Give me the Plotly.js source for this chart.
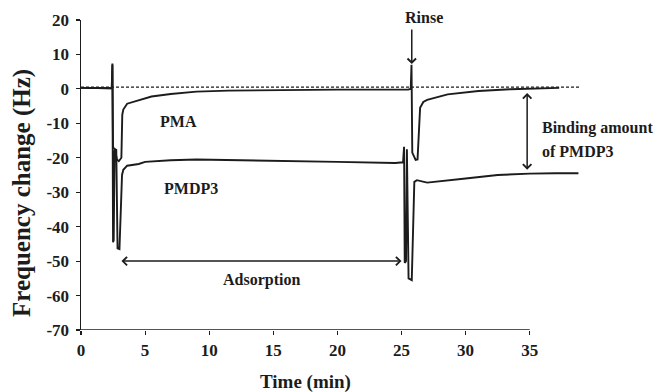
<!DOCTYPE html>
<html>
<head>
<meta charset="utf-8">
<script src="https://cdn.plot.ly/plotly-3.0.1.min.js"></script>
<style>html,body{margin:0;padding:0;background:#fff;}#chart{width:654px;height:392px;}</style>
</head>
<body>
<div id="chart"></div>
<script>
// Time (min) and frequency change (Hz)
const pmaTime = [0, 1.0, 2.0, 2.40, 2.45, 2.50, 2.65, 2.80, 2.95, 3.15, 3.22, 3.30, 3.60, 4.50, 5.50, 7.00, 9.00, 11.5, 15.0, 20.0, 25.5, 25.72, 25.78, 25.84, 26.10, 26.25, 26.45, 26.70, 27.0, 28.0, 28.6, 31.0, 33.5, 37.3];
const pmaFreq = [0.3, 0.3, 0.1, 0.2, 7.4, -17.0, -17.5, -20.5, -21.0, -20.0, -7.5, -6.0, -4.3, -3.2, -2.2, -1.5, -0.8, -0.5, -0.3, -0.2, -0.2, 0.0, 7.0, -18.5, -20.6, -20.5, -5.5, -3.8, -3.2, -2.2, -1.6, -0.6, -0.1, 0.3];

const pmdp3Time = [0, 1.0, 2.0, 2.40, 2.45, 2.50, 2.55, 2.62, 2.75, 2.85, 3.00, 3.20, 3.30, 3.60, 4.50, 5.00, 7.00, 9.00, 13.0, 16.0, 20.0, 24.5, 25.12, 25.20, 25.25, 25.35, 25.42, 25.55, 25.80, 26.00, 26.20, 27.0, 28.5, 30.0, 32.5, 35.0, 37.0, 38.8];
const pmdp3Freq = [0.3, 0.3, 0.1, 0.2, 7.0, -44.5, -44.0, -18.0, -17.5, -46.3, -46.5, -25.0, -23.5, -22.3, -21.8, -21.2, -20.7, -20.5, -20.7, -20.9, -21.2, -21.5, -21.3, -16.8, -50.5, -50.0, -17.5, -55.0, -55.5, -27.0, -26.5, -27.2, -26.7, -26.0, -25.0, -24.6, -24.5, -24.5];

const baseTime = [0, 38.9];
const baseFreq = [0.5, 0.5];

const xTicks = [0, 5, 10, 15, 20, 25, 30, 35];
const yTicks = [20, 10, 0, -10, -20, -30, -40, -50, -60, -70];

const ink = '#1c1c1c';
const serif = 'Liberation Serif, Times New Roman, serif';

const traces = [
  {x: pmdp3Time, y: pmdp3Freq, mode: 'lines', line: {color: ink, width: 1.9}, hoverinfo: 'skip'},
  {x: pmaTime, y: pmaFreq, mode: 'lines', line: {color: ink, width: 1.9}, hoverinfo: 'skip'},
  {x: baseTime, y: baseFreq, mode: 'lines', line: {color: ink, width: 1.1, dash: '3px,2px'}, hoverinfo: 'skip'}
];

const layout = {
  width: 654, height: 392,
  margin: {l: 81, r: 73, t: 20, b: 62},
  paper_bgcolor: '#fff', plot_bgcolor: '#fff',
  showlegend: false,
  font: {family: serif, color: ink, size: 17, weight: 'bold'},
  xaxis: {
    range: [0, 39], tickvals: xTicks, ticktext: xTicks.map(String),
    showline: false, showgrid: false, zeroline: false,
    ticks: 'outside', ticklen: 4, tickwidth: 1.2, tickcolor: ink,
    tickfont: {family: serif, size: 17, weight: 'bold', color: ink},
    ticklabelstandoff: 1
  },
  yaxis: {
    range: [-70, 20], tickvals: yTicks, ticktext: yTicks.map(String),
    showline: true, linecolor: ink, linewidth: 1.5, mirror: false,
    showgrid: false, zeroline: false,
    ticks: 'outside', ticklen: 4, tickwidth: 1.2, tickcolor: ink,
    tickfont: {family: serif, size: 17, weight: 'bold', color: ink},
    ticklabelstandoff: 3
  },
  shapes: [
    {type: 'line', xref: 'x', yref: 'y', x0: 0, x1: 35, y0: -70, y1: -70, line: {color: ink, width: 1.5}}
  ],
  annotations: [
    {xref: 'paper', yref: 'paper', x: -0.118, y: 0.442, xanchor: 'center', yanchor: 'middle', text: 'Frequency change (Hz)', textangle: -90, showarrow: false, font: {family: serif, size: 25, weight: 'bold', color: ink}},
    {xref: 'x', yref: 'paper', x: 17.5, y: -0.167, xanchor: 'center', yanchor: 'middle', text: 'Time (min)', showarrow: false, font: {family: serif, size: 19, weight: 'bold', color: ink}},
    {xref: 'x', yref: 'y', x: 7.57, y: -9.6, text: 'PMA', showarrow: false, font: {family: serif, size: 16, weight: 'bold', color: ink}},
    {xref: 'x', yref: 'y', x: 8.58, y: -28.8, text: 'PMDP3', showarrow: false, font: {family: serif, size: 16, weight: 'bold', color: ink}},
    {xref: 'x', yref: 'y', x: 14.1, y: -55.5, text: 'Adsorption', showarrow: false, font: {family: serif, size: 16, weight: 'bold', color: ink}},
    {xref: 'x', yref: 'y', x: 35.8, y: -11.4, text: 'Binding amount', xanchor: 'left', showarrow: false, font: {family: serif, size: 16, weight: 'bold', color: ink}},
    {xref: 'x', yref: 'y', x: 35.8, y: -18.3, text: 'of PMDP3', xanchor: 'left', showarrow: false, font: {family: serif, size: 16, weight: 'bold', color: ink}},
    {xref: 'x', yref: 'paper', x: 26.75, y: 1.008, xanchor: 'center', yanchor: 'middle', text: 'Rinse', showarrow: false, font: {family: serif, size: 16, weight: 'bold', color: ink}},
    // arrows
    {xref: 'x', yref: 'y', x: 25.8, y: 7.2, ax: 0, ay: -36, text: '', showarrow: true, arrowhead: 4, arrowsize: 1.1, arrowwidth: 1.5, arrowcolor: ink, startstandoff: 0, standoff: 0},
    {xref: 'x', yref: 'y', axref: 'x', ayref: 'y', x: 25.0, y: -50, ax: 3.04, ay: -50, text: '', showarrow: true, arrowhead: 4, startarrowhead: 4, arrowside: 'end+start', arrowsize: 1.1, startarrowsize: 1.1, arrowwidth: 1.5, arrowcolor: ink, startstandoff: 0, standoff: 0},
    {xref: 'x', yref: 'y', axref: 'x', ayref: 'y', x: 34.8, y: -1.2, ax: 34.8, ay: -23.9, text: '', showarrow: true, arrowhead: 4, startarrowhead: 4, arrowside: 'end+start', arrowsize: 1.1, startarrowsize: 1.1, arrowwidth: 1.5, arrowcolor: ink, startstandoff: 0, standoff: 0}
  ]
};

Plotly.newPlot('chart', traces, layout, {displayModeBar: false, staticPlot: true});
</script>
</body>
</html>
